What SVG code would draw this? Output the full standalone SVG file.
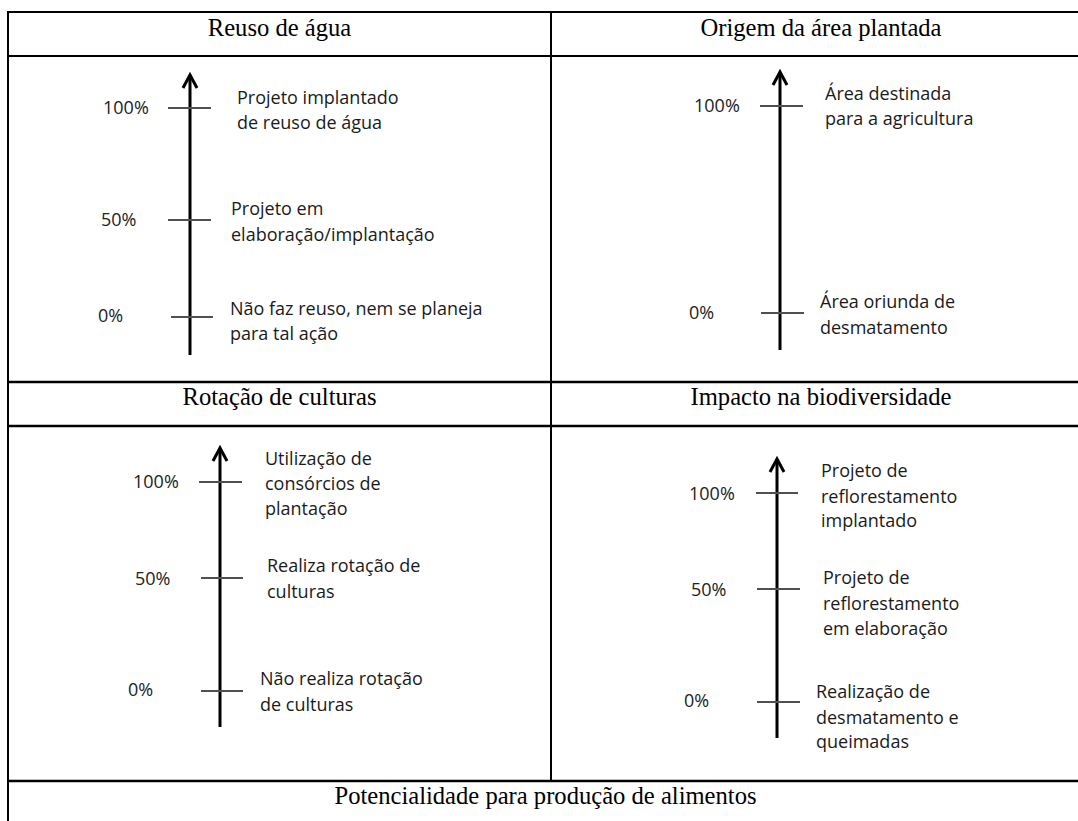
<svg xmlns="http://www.w3.org/2000/svg" width="1078" height="821" viewBox="0 0 1078 821">
<style>
.grid{stroke:#000;stroke-width:2;fill:none}
.thick{stroke-width:2.6}
.hdr{font-family:"Liberation Serif","Times New Roman",serif;font-size:24.6px;fill:#000;text-anchor:middle}
.lbl{font-family:"Open Sans","Noto Sans",sans-serif;font-size:18px;fill:#1a1a1a}
.pct{font-family:"Open Sans","Noto Sans",sans-serif;font-size:18px;fill:#222}
.axis{stroke:#000;stroke-width:3;fill:none;marker-end:url(#ah)}
.tick{stroke:#505050;stroke-width:1.8}
</style>
<defs>
<marker id="ah" markerUnits="userSpaceOnUse" markerWidth="30" markerHeight="30" refX="0" refY="0" orient="auto" overflow="visible">
<path d="M-13,-7 L0,0 L-13,7" fill="none" stroke="#000" stroke-width="3" stroke-linejoin="miter"/>
</marker>
</defs>
<rect width="1078" height="821" fill="#fff"/>
<g id="table">
<line class="grid" x1="8" y1="12" x2="1078" y2="12"/>
<line class="grid" x1="8" y1="56" x2="1078" y2="56"/>
<line class="grid thick" x1="8" y1="382" x2="1078" y2="382"/>
<line class="grid thick" x1="8" y1="426" x2="1078" y2="426"/>
<line class="grid thick" x1="8" y1="781" x2="1078" y2="781"/>
<line class="grid" x1="8" y1="11" x2="8" y2="821"/>
<line class="grid" x1="551" y1="11" x2="551" y2="781"/>
<text class="hdr" x="279.5" y="36">Reuso de água</text>
<text class="hdr" x="821" y="36">Origem da área plantada</text>
<text class="hdr" x="279.5" y="405">Rotação de culturas</text>
<text class="hdr" x="821" y="405">Impacto na biodiversidade</text>
<text class="hdr" x="545.5" y="804">Potencialidade para produção de alimentos</text>
</g>
<g id="connectors">
<line class="axis" x1="190" y1="355" x2="190" y2="75"/>
<line class="axis" x1="780" y1="350" x2="780" y2="72"/>
<line class="axis" x1="220" y1="727" x2="220" y2="448"/>
<line class="axis" x1="777" y1="738" x2="777" y2="459"/>
</g>
<g id="reuso-agua">
<line class="tick" x1="168" y1="108" x2="211" y2="108"/>
<line class="tick" x1="168" y1="220" x2="211" y2="220"/>
<line class="tick" x1="171" y1="317" x2="213" y2="317"/>
<text class="pct" x="103" y="114">100%</text>
<text class="pct" x="101" y="226">50%</text>
<text class="pct" x="98" y="322">0%</text>
<text class="lbl" x="237" y="104">Projeto implantado</text>
<text class="lbl" x="237" y="129">de reuso de água</text>
<text class="lbl" x="231" y="215">Projeto em</text>
<text class="lbl" x="231" y="241">elaboração/implantação</text>
<text class="lbl" x="230" y="315">Não faz reuso, nem se planeja</text>
<text class="lbl" x="230" y="340">para tal ação</text>
</g>
<g id="origem-area">
<line class="tick" x1="760" y1="106" x2="803" y2="106"/>
<line class="tick" x1="761" y1="313" x2="804" y2="313"/>
<text class="pct" x="694" y="112">100%</text>
<text class="pct" x="689" y="319">0%</text>
<text class="lbl" x="825" y="100">Área destinada</text>
<text class="lbl" x="825" y="125">para a agricultura</text>
<text class="lbl" x="820" y="308">Área oriunda de</text>
<text class="lbl" x="820" y="334">desmatamento</text>
</g>
<g id="rotacao-culturas">
<line class="tick" x1="199" y1="482" x2="242" y2="482"/>
<line class="tick" x1="201" y1="578" x2="243" y2="578"/>
<line class="tick" x1="201" y1="691" x2="243" y2="691"/>
<text class="pct" x="133" y="488">100%</text>
<text class="pct" x="135" y="585">50%</text>
<text class="pct" x="128" y="696">0%</text>
<text class="lbl" x="265" y="465">Utilização de</text>
<text class="lbl" x="265" y="490">consórcios de</text>
<text class="lbl" x="265" y="515">plantação</text>
<text class="lbl" x="267" y="572">Realiza rotação de</text>
<text class="lbl" x="267" y="598">culturas</text>
<text class="lbl" x="260" y="685">Não realiza rotação</text>
<text class="lbl" x="260" y="711">de culturas</text>
</g>
<g id="impacto-biodiversidade">
<line class="tick" x1="756" y1="493" x2="798" y2="493"/>
<line class="tick" x1="757" y1="589" x2="800" y2="589"/>
<line class="tick" x1="757" y1="702" x2="800" y2="702"/>
<text class="pct" x="689" y="500">100%</text>
<text class="pct" x="691" y="596">50%</text>
<text class="pct" x="684" y="707">0%</text>
<text class="lbl" x="821" y="477">Projeto de</text>
<text class="lbl" x="821" y="503">reflorestamento</text>
<text class="lbl" x="821" y="527">implantado</text>
<text class="lbl" x="823" y="584">Projeto de</text>
<text class="lbl" x="823" y="610">reflorestamento</text>
<text class="lbl" x="823" y="635">em elaboração</text>
<text class="lbl" x="816" y="698">Realização de</text>
<text class="lbl" x="816" y="724">desmatamento e</text>
<text class="lbl" x="816" y="748">queimadas</text>
</g>
</svg>
